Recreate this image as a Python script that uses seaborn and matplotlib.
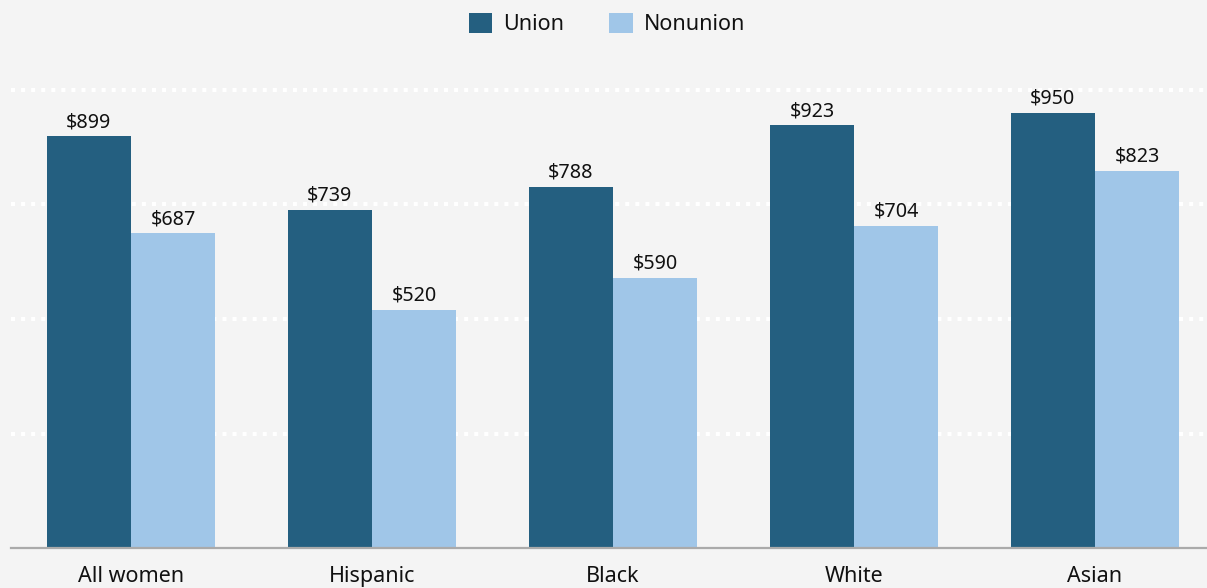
import matplotlib
matplotlib.use("Agg")
import matplotlib.pyplot as plt
import seaborn as sns
import pandas as pd
from matplotlib.patches import Patch

categories = ["All women", "Hispanic", "Black", "White", "Asian"]
union = [899, 739, 788, 923, 950]
nonunion = [687, 520, 590, 704, 823]
series_names = ["Union", "Nonunion"]
colors = ["#245f80", "#a0c6e8"]
bg = "#f4f4f4"

df = pd.DataFrame({
    "group": categories * 2,
    "series": [series_names[0]] * len(categories) + [series_names[1]] * len(categories),
    "value": union + nonunion,
})

sns.set_theme(style="white")
plt.rcParams["font.family"] = ["Noto Sans", "DejaVu Sans"]

W, H = 1207, 588
fig = plt.figure(figsize=(W / 100, H / 100), dpi=100, facecolor=bg)
ymax = 1090
scale = 0.458
ax_h = ymax * scale
ax = fig.add_axes([10.5 / W, 40 / H, 1205 / W, ax_h / H])
ax.set_facecolor(bg)

sns.barplot(data=df, x="group", y="value", hue="series", order=categories,
            hue_order=series_names, palette=colors, width=0.7, saturation=1,
            edgecolor="none", linewidth=0, ax=ax, legend=False, zorder=3)

ax.set_xlim(-0.5, 4.5)
ax.set_ylim(0, ymax)
ax.set_yticks([250, 500, 750, 1000])
ax.yaxis.grid(True, color="white", linewidth=2.9, linestyle=(0, (1, 1.5)),
              dash_capstyle="butt", zorder=1)
ax.set_axisbelow(True)
ax.tick_params(axis="y", left=False, labelleft=False)
ax.tick_params(axis="x", bottom=False, labelsize=15.5, pad=7, colors="#111111")
ax.set_xlabel("")
ax.set_ylabel("")
for s in ["top", "right", "left"]:
    ax.spines[s].set_visible(False)
ax.spines["bottom"].set_color("#aaaaaa")
ax.spines["bottom"].set_linewidth(1.6)
ax.spines["bottom"].set_zorder(4)

for cont in ax.containers:
    ax.bar_label(cont, labels=[f"${int(v)}" for v in cont.datavalues],
                 padding=3, fontsize=14.2, color="#111111")

handles = [Patch(facecolor=c, edgecolor="none") for c in colors]
fig.legend(handles, series_names, loc="center", bbox_to_anchor=(607 / W, 1 - 24 / H),
           ncol=2, frameon=False, fontsize=15.5, handlelength=1.1, handleheight=1.1,
           handletextpad=0.5, columnspacing=2.1, labelcolor="#111111")

fig.savefig("out.png", dpi=100, facecolor=bg)
